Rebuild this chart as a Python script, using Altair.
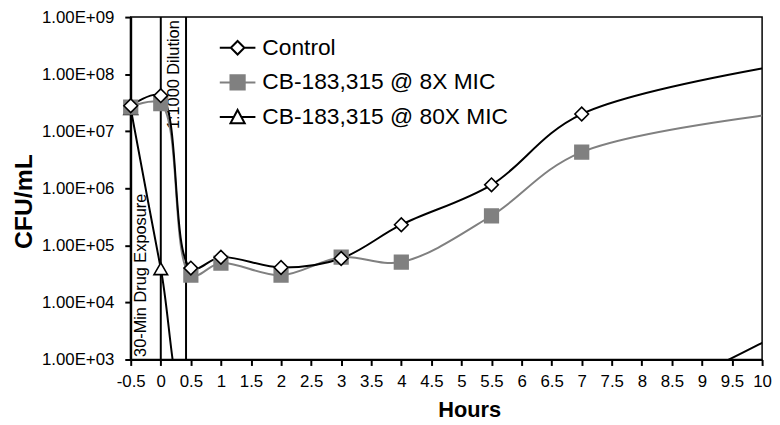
import altair as alt
import pandas as pd

# ---- data ----
hours = [-0.5, 0, 0.5, 1, 2, 3, 4, 5.5, 7, 12]
control = [2.8e7, 4.2e7, 4.0e4, 6.2e4, 4.1e4, 5.9e4, 2.3e5, 1.15e6, 2.0e7, 2.8e8]
mic8 = [2.65e7, 3.05e7, 3.0e4, 4.9e4, 3.0e4, 6.2e4, 5.1e4, 3.3e5, 4.3e6, 3.3e7]
mic80 = [2.5e7, 3.9e4, 80, 80, 80, 80, 80, 80, 80, 2.6e4]
series_names = ["Control", "CB-183,315 @ 8X MIC", "CB-183,315 @ 80X MIC"]
x_ticks = [-0.5, 0, 0.5, 1, 1.5, 2, 2.5, 3, 3.5, 4, 4.5, 5, 5.5, 6, 6.5, 7,
           7.5, 8, 8.5, 9, 9.5, 10]
y_ticks = [1e3, 1e4, 1e5, 1e6, 1e7, 1e8, 1e9]
phase_lines = [-0.5, 0, 0.42]
notes = ["30-Min Drug Exposure", "1:1000 Dilution"]

rows = []
for name, vals in zip(series_names, [control, mic8, mic80]):
    for h, v in zip(hours, vals):
        rows.append({"series": name, "hours": h, "cfu": v})
df = pd.DataFrame(rows)
visible = df[(df["hours"] <= 10) & (df["cfu"] >= 1e3)]

FONT = "Liberation Sans"
GRAY = "#808080"
strokes = ["black", GRAY, "black"]
fills = ["white", GRAY, "white"]
legend_shapes = [
    "M -1 0 L -0.38 0 M 0.38 0 L 1 0 M 0 -0.38 L 0.38 0 L 0 0.38 L -0.38 0 Z",
    "M -1 0 L -0.4 0 M 0.4 0 L 1 0 M -0.4 -0.4 L 0.4 -0.4 L 0.4 0.4 L -0.4 0.4 Z",
    "M -1 0 L -0.21 0 M 0.21 0 L 1 0 M 0 -0.4 L 0.4 0.35 L -0.4 0.35 Z",
]

X = alt.X(
    "hours:Q",
    scale=alt.Scale(domain=[-0.5, 10], nice=False, zero=False),
    axis=alt.Axis(
        values=x_ticks, labelExpr="datum.value + ''", title="Hours",
        titleFontSize=22, titleX=342, titleY=58, titleAlign="center",
        titleBaseline="alphabetic", labelPadding=8, labelFlush=False,
        labelOverlap=False,
    ),
)
Y = alt.Y(
    "cfu:Q",
    scale=alt.Scale(type="log", domain=[1e3, 1e9], nice=False),
    axis=alt.Axis(
        values=y_ticks,
        labelExpr="'1.00E+0' + round(log(datum.value) / LN10)",
        title="CFU/mL", titleFontSize=25, titleX=-100, titleY=186,
        titleAngle=270, titleAlign="center", titleBaseline="alphabetic",
        labelPadding=11, labelFlush=False,
    ),
)

rules = alt.Chart(pd.DataFrame({"hours": phase_lines})).mark_rule(
    color="black", strokeWidth=2
).encode(x=X)

marker_shape = {series_names[0]: "diamond", series_names[1]: "square", series_names[2]: "triangle-up"}
line_layers = []
point_layers = []
for name, fc, sc in zip(reversed(series_names), reversed(fills), reversed(strokes)):
    line_layers.append(
        alt.Chart(df).transform_filter(alt.datum.series == name).mark_line(
            interpolate="catmull-rom", clip=True, strokeWidth=2, stroke=sc
        ).encode(x=X, y=Y)
    )
    point_layers.append(
        alt.Chart(visible).transform_filter(alt.datum.series == name).mark_point(
            shape=marker_shape[name], filled=True, fill=fc, stroke=sc,
            strokeWidth=1.6, size=190, opacity=1,
        ).encode(x=X, y=Y)
    )

LEG = alt.Legend(
    orient="none", legendX=89, legendY=12, title=None, padding=0,
    labelFont=FONT, labelFontSize=23, labelColor="black", labelOffset=6,
    labelLimit=0, symbolSize=1296, symbolStrokeWidth=2, symbolOpacity=1,
    rowPadding=4,
)
legend_layer = alt.Chart(pd.DataFrame({"series": series_names})).mark_point(
    size=0, filled=True
).encode(
    shape=alt.Shape("series:N", scale=alt.Scale(domain=series_names, range=legend_shapes), legend=LEG),
    fill=alt.Fill("series:N", scale=alt.Scale(domain=series_names, range=fills), legend=LEG),
    stroke=alt.Stroke("series:N", scale=alt.Scale(domain=series_names, range=strokes), legend=LEG),
)

note1 = alt.Chart(pd.DataFrame({"hours": [-0.253], "cfu": [1.11e3], "t": [notes[0]]})).mark_text(
    angle=270, align="left", baseline="alphabetic", font=FONT, fontSize=16.5, color="black"
).encode(x=X, y=Y, text="t:N")
note2 = alt.Chart(pd.DataFrame({"hours": [0.306], "cfu": [8.8e8], "t": [notes[1]]})).mark_text(
    angle=270, align="right", baseline="alphabetic", font=FONT, fontSize=16.5, color="black"
).encode(x=X, y=Y, text="t:N")

chart = alt.layer(rules, note1, note2, *line_layers, *point_layers, legend_layer).properties(
    width=638, height=346,
    autosize=alt.AutoSizeParams(type="none"),
    padding={"left": 124, "top": 7, "right": 10, "bottom": 64},
).configure_view(stroke="black", strokeWidth=1.5).configure_axis(
    labelFont=FONT, labelFontSize=17, titleFont=FONT, titleFontWeight="bold",
    grid=False, domainColor="black", tickColor="black", labelColor="black",
    titleColor="black", domainWidth=2, tickWidth=2, tickSize=6,
)

chart.save("out.html", embed_options={"renderer": "svg", "actions": False})
